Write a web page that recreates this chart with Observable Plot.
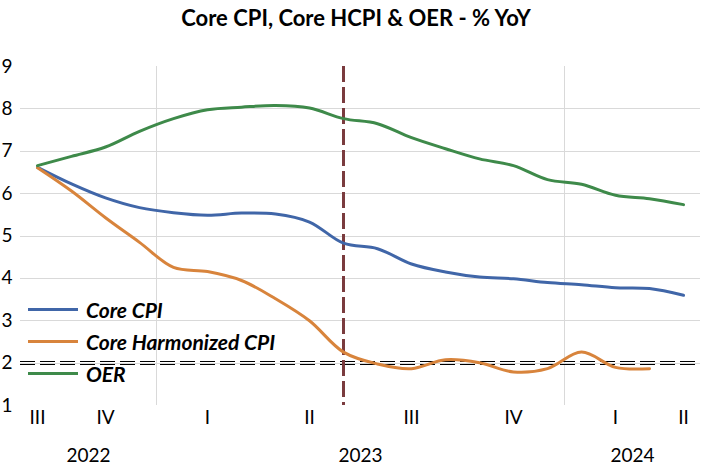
<!DOCTYPE html>
<html>
<head>
<meta charset="utf-8">
<script src="https://cdn.jsdelivr.net/npm/d3@7"></script>
<script src="https://cdn.jsdelivr.net/npm/@observablehq/plot@0.6"></script>
<style>
  html, body { margin: 0; padding: 0; background: #fff; }
  #wrap { position: relative; width: 702px; height: 472px; font-family: Lato, "Open Sans", sans-serif; color: #000; }
  #title { height: 36px; line-height: 36px; text-align: center; font-weight: bold; font-size: 22px; padding-left: 10px; }
  .legend-row { position: absolute; left: 28px; height: 32px; display: flex; align-items: center; font-weight: bold; font-style: italic; font-size: 21px; }
  .swatch { width: 50px; height: 3px; margin-right: 8px; }
</style>
</head>
<body>
<div id="wrap">
  <div id="title">Core CPI, Core HCPI &amp; OER - % YoY</div>
  <div id="chart"></div>
  <div id="legend"></div>
</div>
<script>
// ---- data (monthly, YoY %) ----
const months = ["2022-09","2022-10","2022-11","2022-12","2023-01","2023-02","2023-03","2023-04","2023-05","2023-06",
                "2023-07","2023-08","2023-09","2023-10","2023-11","2023-12","2024-01","2024-02","2024-03","2024-04"];
const coreCPI  = [6.62, 6.23, 5.90, 5.67, 5.55, 5.49, 5.54, 5.52, 5.33, 4.83, 4.70, 4.34, 4.15, 4.03, 3.99, 3.90, 3.85, 3.78, 3.76, 3.60];
const coreHCPI = [6.61, 6.06, 5.43, 4.85, 4.26, 4.16, 3.95, 3.52, 3.00, 2.26, 1.98, 1.87, 2.08, 2.01, 1.79, 1.87, 2.26, 1.90, 1.87];
const oer      = [6.66, 6.88, 7.10, 7.47, 7.77, 7.98, 8.04, 8.08, 8.02, 7.77, 7.65, 7.32, 7.06, 6.82, 6.66, 6.33, 6.22, 5.96, 5.88, 5.74];
const seriesNames  = ["Core CPI", "Core Harmonized CPI", "OER"];
const seriesColors = ["#4066a8", "#d8843c", "#3e8a4a"];
const yTicks = [1, 2, 3, 4, 5, 6, 7, 8, 9];
const target = 2;
const markerMonth = "2023-06";
const romans = ["I", "II", "III", "IV"];

// ---- derived tables ----
const rows = [];
[coreCPI, coreHCPI, oer].forEach((arr, s) => arr.forEach((v, i) => rows.push({i, value: v, series: seriesNames[s]})));
const mInfo = months.map((m, i) => {
  const [y, mo] = m.split("-").map(Number);
  return {i, year: y, q: Math.floor((mo - 1) / 3)};
});
const quarters = d3.groups(mInfo, d => d.year + "-" + d.q).map(([k, g]) => ({pos: d3.mean(g, d => d.i), label: romans[g[0].q]}));
const years = d3.groups(mInfo, d => d.year).map(([y, g]) => ({pos: d3.mean(g, d => d.i), label: String(y), end: d3.max(g, d => d.i)}));
const yearBounds = years.slice(0, -1).map(d => d.end + 0.5);
const markerIdx = months.indexOf(markerMonth);

const font = "Lato, 'Open Sans', sans-serif";
const chart = Plot.plot({
  width: 702,
  height: 436,
  marginLeft: 20,
  marginRight: 2,
  marginTop: 30,
  marginBottom: 67,
  style: {fontFamily: font, fontSize: "19px", color: "#000", background: "#fff"},
  x: {domain: [-0.5, months.length - 0.5], axis: null},
  y: {domain: [1, 9], ticks: yTicks, tickSize: 0, tickPadding: 8, label: null, tickFormat: d3.format("d")},
  color: {domain: seriesNames, range: seriesColors},
  marks: [
    Plot.ruleY(yTicks.filter(v => v > 1 && v < 9), {stroke: "#d9d9d9", strokeWidth: 1, shapeRendering: "crispEdges"}),
    Plot.ruleX(yearBounds, {stroke: "#d9d9d9", strokeWidth: 1, shapeRendering: "crispEdges"}),
    Plot.ruleY([target], {stroke: "#000", strokeWidth: 1, strokeDasharray: "15,5", dy: -1.5, shapeRendering: "crispEdges"}),
    Plot.ruleY([target], {stroke: "#000", strokeWidth: 1, strokeDasharray: "15,5", dy: 1.5, shapeRendering: "crispEdges"}),
    Plot.ruleX([markerIdx], {stroke: "#7a3b3e", strokeWidth: 3, strokeDasharray: "16,5"}),
    Plot.line(rows, {x: "i", y: "value", z: "series", stroke: "series", strokeWidth: 3, curve: "catmull-rom"}),
    Plot.text(quarters, {x: "pos", text: "label", frameAnchor: "bottom", dy: 18, fontSize: 19, fill: "#000"}),
    Plot.text(years, {x: "pos", text: "label", frameAnchor: "bottom", dy: 56, fontSize: 19, fill: "#000"})
  ]
});
document.getElementById("chart").appendChild(chart);

// ---- legend overlay ----
const legend = document.getElementById("legend");
const legendTops = [293, 325, 357];
seriesNames.forEach((name, k) => {
  const row = document.createElement("div");
  row.className = "legend-row";
  row.style.top = legendTops[k] + "px";
  const sw = document.createElement("div");
  sw.className = "swatch";
  sw.style.background = seriesColors[k];
  const t = document.createElement("span");
  t.textContent = name;
  row.appendChild(sw);
  row.appendChild(t);
  legend.appendChild(row);
});
</script>
</body>
</html>
